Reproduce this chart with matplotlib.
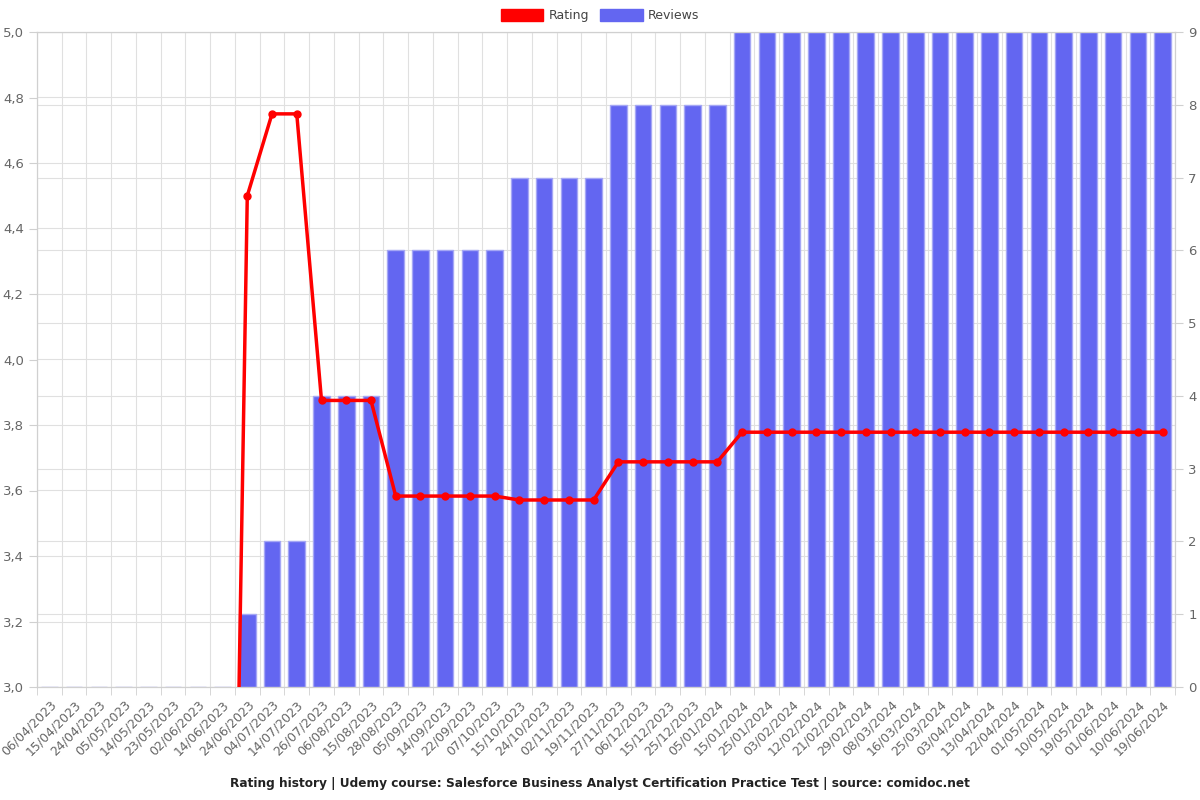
import matplotlib.pyplot as plt
import numpy as np
from matplotlib.patches import Patch

# dates on the x axis
datas = ['06/04/2023', '15/04/2023', '24/04/2023', '05/05/2023', '14/05/2023', '23/05/2023',
         '02/06/2023', '14/06/2023', '24/06/2023', '04/07/2023', '14/07/2023', '26/07/2023',
         '06/08/2023', '15/08/2023', '28/08/2023', '05/09/2023', '14/09/2023', '22/09/2023',
         '07/10/2023', '15/10/2023', '24/10/2023', '02/11/2023', '19/11/2023', '27/11/2023',
         '06/12/2023', '15/12/2023', '25/12/2023', '05/01/2024', '15/01/2024', '25/01/2024',
         '03/02/2024', '12/02/2024', '21/02/2024', '29/02/2024', '08/03/2024', '16/03/2024',
         '25/03/2024', '03/04/2024', '13/04/2024', '22/04/2024', '01/05/2024', '10/05/2024',
         '19/05/2024', '01/06/2024', '10/06/2024', '19/06/2024']

reviews = [0, 0, 0, 0, 0, 0, 0, 0, 1, 2, 2, 4, 4, 4, 6, 6, 6, 6, 6, 7, 7, 7, 7,
           8, 8, 8, 8, 8] + [9] * 18

rating = [0, 0, 0, 0, 0, 0, 0, 0, 4.5, 4.75, 4.75, 3.875, 3.875, 3.875,
          3.583, 3.583, 3.583, 3.583, 3.583, 3.571, 3.571, 3.571, 3.571,
          3.6875, 3.6875, 3.6875, 3.6875, 3.6875] + [3.778] * 18

titulo = 'Rating history | Udemy course: Salesforce Business Analyst Certification Practice Test | source: comidoc.net'

x = np.arange(len(datas))
cinza = '#666666'
cor_grade = '#e0e0e0'

fig = plt.figure(figsize=(12, 8), dpi=100)
ax = fig.add_axes([37 / 1200, 113 / 800, 1138 / 1200, 655 / 800])
ax2 = ax.twinx()

r_min, r_max, n_max = 3.0, 5.0, 9
yt = np.arange(r_min, r_max + 0.01, 0.2)

# grade desenhada no eixo das barras, por baixo delas
for v in yt:
    ax2.axhline((v - r_min) / (r_max - r_min) * n_max, color=cor_grade, linewidth=0.8, zorder=0)
for v in range(0, n_max + 1):
    ax2.axhline(v, color=cor_grade, linewidth=0.8, zorder=0)
for b in np.arange(-0.5, len(datas)):
    ax2.axvline(b, color=cor_grade, linewidth=0.8, zorder=0)

# barras (eixo da direita)
ax2.bar(x, reviews, width=0.67, color='#6366F1', edgecolor='#a5a7f5', linewidth=1, zorder=2)
ax2.set_ylim(0, n_max)
ax2.set_yticks(range(0, n_max + 1))

# linha de rating (eixo da esquerda, por cima)
ax.set_zorder(ax2.get_zorder() + 1)
ax.patch.set_visible(False)
ax.plot(x, rating, color='#ff0000', linewidth=2.5, marker='o', markersize=5, zorder=3)
ax.set_ylim(r_min, r_max)
ax.set_yticks(yt)
ax.set_yticklabels([f'{v:.1f}'.replace('.', ',') for v in yt])

ax.set_xlim(-0.5, len(datas) - 0.5)
ax.set_xticks(x)
ax.set_xticklabels(datas, rotation=45, ha='right', rotation_mode='anchor')
ax.set_xticks(np.arange(-0.5, len(datas)), minor=True)
ax.tick_params(axis='x', which='major', length=0, pad=8)
ax.tick_params(axis='x', which='minor', length=6, color='#d0d0d0')

for a in (ax, ax2):
    a.tick_params(axis='y', colors='#d0d0d0', labelcolor=cinza, labelsize=9.5, length=6)
    a.tick_params(axis='x', labelcolor=cinza, labelsize=9)
    for s in a.spines.values():
        s.set_color('#d0d0d0')

legenda = [Patch(color='#ff0000', label='Rating'), Patch(color='#6366F1', label='Reviews')]
fig.legend(handles=legenda, loc='upper center', bbox_to_anchor=(0.5, 1.003), ncol=2,
           frameon=False, fontsize=9, handlelength=3.4, handleheight=1.1,
           labelcolor='#444444', columnspacing=0.9, handletextpad=0.4)

fig.text(0.5, 0.021, titulo, ha='center', va='center', fontsize=8.7, fontweight='bold',
         color='#222222')

plt.savefig('out.png', dpi=100)
